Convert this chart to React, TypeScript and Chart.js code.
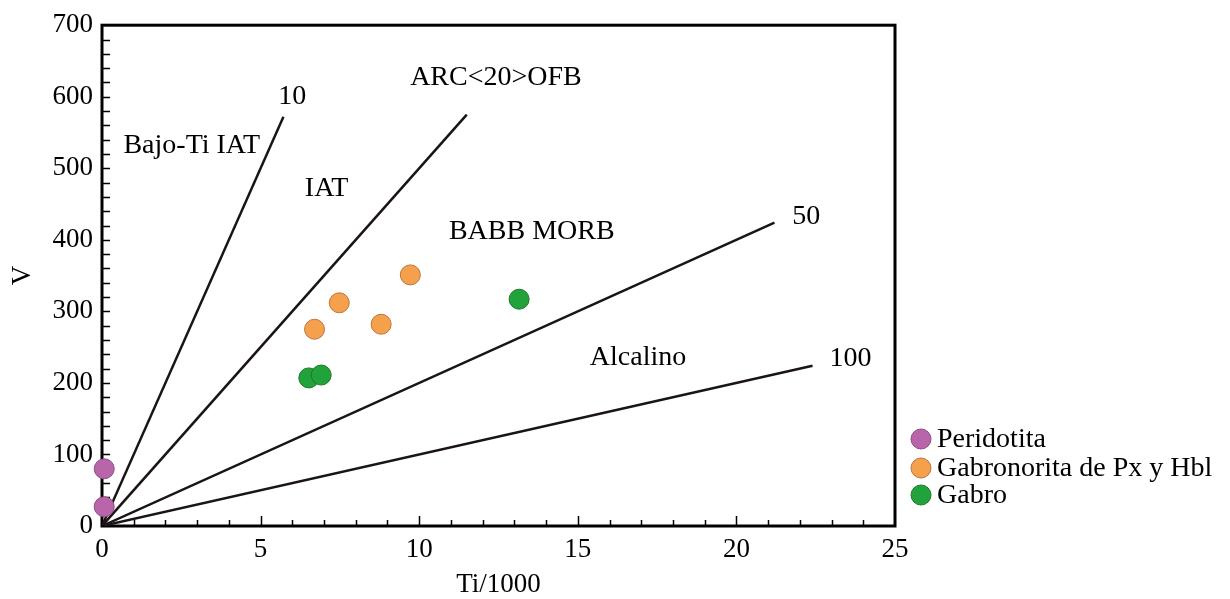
import React, { useEffect, useRef } from "react";
import { Chart, registerables } from "chart.js";
Chart.register(...registerables);

// Samples (x = Ti/1000, y = V ppm)
const peridotitaTi = [0.07, 0.07];
const peridotitaV = [80, 27];
const gabronoritaTi = [6.7, 7.48, 8.8, 9.72];
const gabronoritaV = [275, 312, 282, 351];
const gabroTi = [6.52, 6.91, 13.15];
const gabroV = [207, 211, 317];

// Ti/V reference lines: origin to end point
const ratioNames = ["10", "20", "50", "100"];
const ratioEndTi = [5.72, 11.5, 21.2, 22.4];
const ratioEndV = [572, 575, 424, 224];

// Field / line labels (data coordinates of text centres)
const noteTexts = ["10", "ARC<20>OFB", "50", "100", "Bajo-Ti IAT", "IAT", "BABB MORB", "Alcalino"];
const noteTi = [6.0, 12.42, 22.2, 23.6, 2.83, 7.08, 13.55, 16.9];
const noteV = [600, 627, 432, 234, 531, 471, 411, 236];

const xTicks = [0, 5, 10, 15, 20, 25];
const yTicks = [0, 100, 200, 300, 400, 500, 600, 700];

const seriesNames = ["Peridotita", "Gabronorita de Px y Hbl", "Gabro"];
const seriesFill = ["#b866a9", "#f5a04c", "#22a23a"];
const seriesBorder = ["#8e4c84", "#b9763a", "#1a7a2c"];

const FONT = "'Liberation Serif', 'DejaVu Serif', serif";

export default function App() {
  const ref = useRef<HTMLCanvasElement | null>(null);
  useEffect(() => {
    const canvas = ref.current;
    if (!canvas) return;
    const toPts = (xs: number[], ys: number[]) => xs.map((x, i) => ({ x, y: ys[i] }));

    const lineSets = ratioNames.map((n, i) => ({
      type: "line" as const,
      label: "Ti/V " + n,
      data: [{ x: 0, y: 0 }, { x: ratioEndTi[i], y: ratioEndV[i] }],
      borderColor: "#1b1414",
      borderWidth: 2.5,
      pointRadius: 0,
      showLine: true,
      fill: false,
      order: 2,
    }));
    const pointSets = [
      toPts(peridotitaTi, peridotitaV),
      toPts(gabronoritaTi, gabronoritaV),
      toPts(gabroTi, gabroV),
    ].map((d, i) => ({
      type: "scatter" as const,
      label: seriesNames[i],
      data: d,
      backgroundColor: seriesFill[i],
      borderColor: seriesBorder[i],
      borderWidth: 1,
      pointRadius: 10,
      clip: false,
      order: 1,
    }));

    const deco = {
      id: "deco",
      beforeDatasetsDraw(chart: any) {
        const ctx = chart.ctx;
        const xs = chart.scales.x;
        const ys = chart.scales.y;
        const { left, right, top, bottom } = chart.chartArea;
        ctx.save();
        // annotations
        ctx.fillStyle = "#000";
        ctx.font = `28px ${FONT}`;
        ctx.textAlign = "center";
        ctx.textBaseline = "middle";
        noteTexts.forEach((t, i) => {
          ctx.fillText(t, xs.getPixelForValue(noteTi[i]), ys.getPixelForValue(noteV[i]));
        });
        // ticks
        ctx.strokeStyle = "#000";
        ctx.lineWidth = 1.5;
        ctx.beginPath();
        for (let v = 20; v < 700; v += 20) {
          const py = Math.round(ys.getPixelForValue(v)) + 0.5;
          ctx.moveTo(left, py);
          ctx.lineTo(left + 8, py);
        }
        for (let v = 1; v < 25; v++) {
          const px = Math.round(xs.getPixelForValue(v)) + 0.5;
          const len = v % 5 === 0 ? 10 : 6;
          ctx.moveTo(px, bottom);
          ctx.lineTo(px, bottom - len);
        }
        ctx.stroke();
        // frame
        ctx.lineWidth = 3;
        ctx.strokeRect(left, top, right - left, bottom - top);
        // legend
        const lx = 921;
        const ly = [439, 468, 495];
        ctx.textAlign = "left";
        seriesNames.forEach((n, i) => {
          ctx.beginPath();
          ctx.arc(lx, ly[i], 10, 0, Math.PI * 2);
          ctx.fillStyle = seriesFill[i];
          ctx.fill();
          ctx.lineWidth = 1;
          ctx.strokeStyle = seriesBorder[i];
          ctx.stroke();
          ctx.fillStyle = "#000";
          ctx.fillText(n, 937, ly[i] + 1);
        });
        ctx.restore();
      },
    };

    const chart = new Chart(canvas, {
      data: { datasets: [...lineSets, ...pointSets] as any },
      options: {
        responsive: false,
        animation: false,
        devicePixelRatio: 1,
        layout: { padding: { left: 0, right: 335, top: 24, bottom: 0 } },
        plugins: { legend: { display: false }, tooltip: { enabled: false } },
        scales: {
          x: {
            type: "linear",
            min: 0,
            max: 25,
            afterBuildTicks: (s: any) => { s.ticks = xTicks.map((v) => ({ value: v })); },
            afterFit: (s: any) => { s.height = 73; },
            ticks: { color: "#000", font: { family: FONT, size: 27 }, padding: 8, maxRotation: 0 },
            grid: { display: false, drawTicks: false },
            border: { display: false },
            title: { display: true, text: "Ti/1000", color: "#000", font: { family: FONT, size: 27 }, padding: { top: -2, bottom: -2 } },
          },
          y: {
            type: "linear",
            min: 0,
            max: 700,
            afterBuildTicks: (s: any) => { s.ticks = yTicks.map((v) => ({ value: v })); },
            afterFit: (s: any) => { s.width = 102; },
            ticks: { color: "#000", font: { family: FONT, size: 27 }, padding: 9 },
            grid: { display: false, drawTicks: false },
            border: { display: false },
            title: { display: true, text: "V", color: "#000", font: { family: FONT, size: 27 }, padding: 7 },
          },
        },
      },
      plugins: [deco],
    } as any);
    return () => chart.destroy();
  }, []);
  return (
    <div style={{ position: "fixed", left: 0, top: 0, width: 1230, height: 599, background: "#fff" }}>
      <canvas ref={ref} width={1230} height={599} style={{ width: 1230, height: 599, display: "block" }} />
    </div>
  );
}
